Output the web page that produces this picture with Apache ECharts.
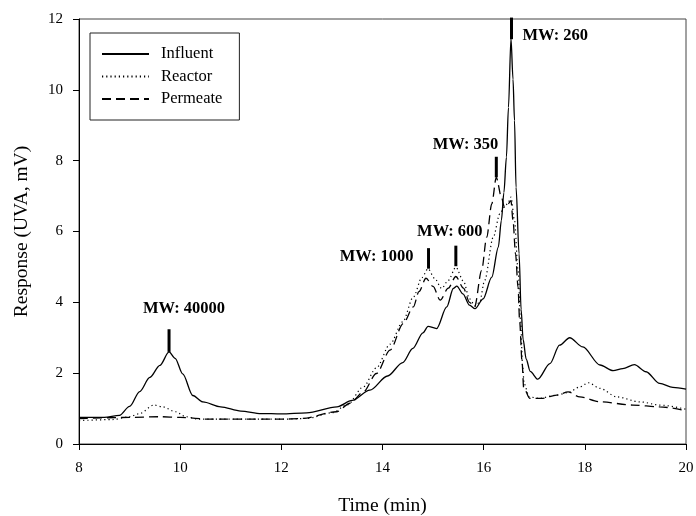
<!DOCTYPE html>
<html>
<head>
<meta charset="utf-8">
<title>UVA response</title>
<script src="https://cdn.jsdelivr.net/npm/echarts@6/dist/echarts.min.js"></script>
<style>
  html, body { margin: 0; padding: 0; background: #fff; }
  #chart { width: 696px; height: 516px; }
</style>
</head>
<body>
<div id="chart"></div>
<script>
// [time (min), response (mV)]
const influent = [
  [8.0, 0.75], [8.5, 0.75], [8.8, 0.81], [9.0, 1.06], [9.2, 1.48], [9.4, 1.88],
  [9.6, 2.22], [9.78, 2.60], [9.9, 2.42], [10.05, 1.98], [10.25, 1.37], [10.45, 1.19],
  [10.8, 1.05], [11.2, 0.93], [11.6, 0.86], [12.0, 0.85], [12.5, 0.88], [13.1, 1.05],
  [13.4, 1.23], [13.75, 1.52], [14.1, 1.92], [14.4, 2.30], [14.6, 2.70], [14.8, 3.14],
  [14.9, 3.32], [15.07, 3.26], [15.27, 3.87], [15.4, 4.39], [15.47, 4.46], [15.59, 4.24],
  [15.72, 3.92], [15.83, 3.82], [15.99, 4.10], [16.16, 4.71], [16.29, 5.56], [16.35, 6.31],
  [16.4, 7.1], [16.45, 8.1], [16.49, 9.5], [16.54, 11.45], [16.58, 10.3], [16.61, 9.13],
  [16.64, 7.25], [16.7, 5.37], [16.74, 3.8], [16.78, 2.95], [16.84, 2.4], [16.92, 2.05],
  [17.07, 1.83], [17.31, 2.27], [17.5, 2.79], [17.7, 3.00], [17.96, 2.74], [18.3, 2.23],
  [18.56, 2.07], [18.75, 2.13], [18.98, 2.24], [19.21, 2.04], [19.48, 1.71], [19.74, 1.60],
  [20.0, 1.55]
];
const reactor = [
  [8.0, 0.66], [8.66, 0.69], [9.0, 0.77], [9.2, 0.86], [9.48, 1.10], [9.65, 1.05],
  [9.91, 0.91], [10.11, 0.77], [10.37, 0.70], [11.0, 0.70], [12.0, 0.70], [12.5, 0.72],
  [13.0, 0.88], [13.3, 1.10], [13.62, 1.61], [13.88, 2.15], [14.15, 2.82], [14.4, 3.45],
  [14.61, 4.15], [14.78, 4.70], [14.9, 4.95], [15.03, 4.68], [15.17, 4.39], [15.3, 4.62],
  [15.45, 4.99], [15.6, 4.6], [15.72, 4.1], [15.83, 3.9], [15.92, 4.0], [16.02, 4.62],
  [16.19, 5.84], [16.32, 6.50], [16.41, 6.69], [16.48, 6.8], [16.54, 6.97], [16.61, 6.31],
  [16.68, 4.90], [16.73, 3.49], [16.77, 2.2], [16.8, 1.7], [16.9, 1.33], [17.1, 1.29],
  [17.44, 1.38], [17.67, 1.45], [17.9, 1.61], [18.07, 1.73], [18.3, 1.57], [18.63, 1.33],
  [19.09, 1.19], [19.48, 1.10], [20.0, 0.98]
];
const permeate = [
  [8.0, 0.72], [9.0, 0.75], [9.6, 0.77], [10.0, 0.75], [10.6, 0.70], [11.3, 0.70],
  [12.0, 0.70], [12.4, 0.72], [13.09, 0.91], [13.36, 1.15], [13.62, 1.47], [13.88, 1.99],
  [14.15, 2.65], [14.41, 3.40], [14.61, 3.87], [14.72, 4.3], [14.86, 4.68], [15.0, 4.45],
  [15.14, 4.06], [15.3, 4.4], [15.45, 4.73], [15.6, 4.4], [15.72, 4.0], [15.82, 3.87],
  [15.96, 4.90], [16.06, 5.84], [16.16, 6.78], [16.25, 7.53], [16.35, 6.97], [16.41, 6.69],
  [16.48, 6.78], [16.54, 6.87], [16.58, 6.31], [16.63, 5.37], [16.68, 4.43], [16.71, 3.49],
  [16.76, 2.3], [16.79, 1.6], [16.91, 1.29], [17.17, 1.29], [17.44, 1.38], [17.67, 1.47],
  [17.9, 1.33], [18.3, 1.19], [18.95, 1.10], [19.48, 1.05], [20.0, 0.94]
];

// molecular weight markers: label, time, bar bottom, bar top
const markerNames = ['MW: 40000', 'MW: 1000', 'MW: 600', 'MW: 350', 'MW: 260'];
const markerTimes = [9.78, 14.91, 15.45, 16.25, 16.55];
const markerLow = [2.6, 4.95, 5.02, 7.53, 11.43];
const markerHigh = [3.24, 5.53, 5.6, 8.11, 12.04];

const xTicks = [8, 20, 2];
const yTicks = [0, 12, 2];

// label placement next to each marker bar (pixels from the bar top)
const labelPlace = [
  { dx: 15, dy: -21, align: 'center' },
  { dx: -15, dy: 9, align: 'right' },
  { dx: -6, dy: -14, align: 'center' },
  { dx: 2, dy: -12, align: 'right' },
  { dx: 11, dy: 18, align: 'left' }
];

const serif = '"Liberation Serif", "DejaVu Serif", serif';
const chart = echarts.init(document.getElementById('chart'), null, { renderer: 'canvas' });

const lineSeries = (name, data, type, width) => ({
  name,
  type: 'line',
  data,
  symbol: 'none',
  smooth: 0.3,
  smoothMonotone: 'x',
  lineStyle: { color: '#000', width, type },
  itemStyle: { color: '#000' },
  z: 3
});

chart.setOption({
  animation: false,
  backgroundColor: '#fff',
  grid: {
    left: 79, right: 10, top: 19, bottom: 72,
    outerBoundsMode: 'none',
    containLabel: false,
    show: true, borderColor: '#444', borderWidth: 1
  },
  legend: {
    orient: 'vertical',
    left: 90, top: 33,
    itemWidth: 47, itemHeight: 14, itemGap: 5.5,
    padding: [12.5, 17, 12.5, 11],
    borderColor: '#222', borderWidth: 1,
    itemStyle: { opacity: 0 },
    textStyle: { fontFamily: serif, fontSize: 16.5, color: '#000', padding: [0, 0, 0, 7] },
    data: ['Influent', 'Reactor', 'Permeate']
  },
  xAxis: {
    type: 'value',
    min: xTicks[0], max: xTicks[1], interval: xTicks[2],
    name: 'Time (min)',
    nameLocation: 'middle',
    nameGap: 52,
    nameTextStyle: { fontFamily: serif, fontSize: 19.5, color: '#000' },
    axisLine: { lineStyle: { color: '#000', width: 1 } },
    axisTick: { inside: false, length: 6, lineStyle: { color: '#000' } },
    axisLabel: { fontFamily: serif, fontSize: 15, color: '#000', margin: 17 },
    splitLine: { show: false }
  },
  yAxis: {
    type: 'value',
    min: yTicks[0], max: yTicks[1], interval: yTicks[2],
    name: 'Response (UVA, mV)',
    nameLocation: 'middle',
    nameGap: 47,
    nameTextStyle: { fontFamily: serif, fontSize: 19.5, color: '#000' },
    axisLine: { lineStyle: { color: '#000', width: 1 } },
    axisTick: { inside: false, length: 6, lineStyle: { color: '#000' } },
    axisLabel: { fontFamily: serif, fontSize: 15, color: '#000', margin: 16 },
    splitLine: { show: false }
  },
  series: [
    lineSeries('Influent', influent, 'solid', 1.3),
    lineSeries('Reactor', reactor, [1.2, 3], 1.2),
    lineSeries('Permeate', permeate, [9, 5], 1.3),
    {
      type: 'custom',
      name: 'markers',
      clip: false,
      z: 5,
      data: markerTimes.map((t, i) => [t, markerLow[i], markerHigh[i]]),
      renderItem: function (params, api) {
        const top = api.coord([api.value(0), api.value(2)]);
        const bottom = api.coord([api.value(0), api.value(1)]);
        const p = labelPlace[params.dataIndex];
        return {
          type: 'group',
          children: [
            {
              type: 'rect',
              shape: { x: top[0] - 1.5, y: top[1], width: 3, height: bottom[1] - top[1] },
              style: { fill: '#000' }
            },
            {
              type: 'text',
              x: top[0] + p.dx,
              y: top[1] + p.dy,
              style: {
                text: markerNames[params.dataIndex],
                font: 'bold 16.5px ' + serif,
                fill: '#000',
                align: p.align, textAlign: p.align,
                verticalAlign: 'middle', textVerticalAlign: 'middle'
              }
            }
          ]
        };
      }
    }
  ]
});
</script>
</body>
</html>
